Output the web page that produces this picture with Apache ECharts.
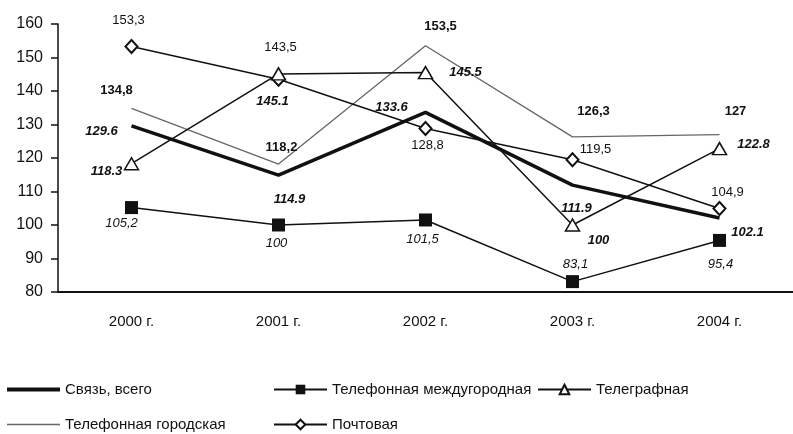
<!DOCTYPE html>
<html>
<head>
<meta charset="utf-8">
<script src="https://cdn.jsdelivr.net/npm/echarts@6/dist/echarts.min.js"></script>
<style>
  html, body { margin: 0; padding: 0; background: #fff; }
  #chart { width: 793px; height: 434px; }
</style>
</head>
<body>
<div id="chart"></div>
<script>
const years = ['2000 г.', '2001 г.', '2002 г.', '2003 г.', '2004 г.'];

const svyazTotal = [129.6, 114.9, 133.6, 111.9, 102.1];
const phoneLong = [105.2, 100, 101.5, 83.1, 95.4];
const telegraph = [118.3, 145.1, 145.5, 100, 122.8];
const phoneCity = [134.8, 118.2, 153.5, 126.3, 127];
const postal = [153.3, 143.5, 128.8, 119.5, 104.9];

// where each value label sits relative to its point (px)
const offsets = {
  total: [[-30, 6], [11, 24], [-34, -5], [4, 23], [28, 14]],
  long: [[-10, 16], [-2, 18], [-3, 19], [3, -17], [1, 24]],
  tele: [[-25, 8], [-6, 28], [40, 0], [26, 15], [34, -4]],
  city: [[-15, -18], [3, -17], [15, -19], [21, -25], [16, -23]],
  post: [[-3, -26], [2, -32], [2, 17], [23, -10], [8, -16]]
};

const font = '"Liberation Sans", Arial, sans-serif';

function withLabels(values, offs, sep, style) {
  return values.map((v, i) => ({
    value: v,
    label: Object.assign({
      show: true,
      position: 'inside',
      offset: offs[i],
      formatter: String(v).replace('.', sep),
      color: '#111',
      fontSize: 13,
      fontFamily: font
    }, style)
  }));
}

let myChart = echarts.init(document.getElementById('chart'));
let option = {
  backgroundColor: '#fff',
  animation: false,
  grid: { left: 58, right: 0, top: 24, bottom: 142 },
  legend: [
    { left: 7, top: 382, itemHeight: 4, data: [{ name: 'Связь, всего', icon: 'rect' }], lineStyle: { width: 4 } },
    { left: 7, top: 417, itemHeight: 1.5, data: [{ name: 'Телефонная городская', icon: 'rect' }], lineStyle: { width: 1.2, type: [3, 2] } },
    { left: 273, top: 382, data: ['Телефонная междугородная'] },
    { left: 273, top: 417, data: ['Почтовая'] },
    { left: 537, top: 382, data: ['Телеграфная'] }
  ].map(l => Object.assign({
    itemWidth: 53, itemHeight: 12, itemGap: 0, padding: 0,
    textStyle: { fontSize: 15, fontFamily: font, color: '#111' }
  }, l)),
  xAxis: {
    type: 'category',
    data: years,
    boundaryGap: true,
    axisLine: { lineStyle: { color: '#111', width: 1.8 } },
    axisTick: { length: 6, lineStyle: { color: '#111', width: 1.5 } },
    axisLabel: { fontSize: 15, fontFamily: font, color: '#111', margin: 22 }
  },
  yAxis: {
    type: 'value',
    min: 80,
    max: 160,
    interval: 10,
    axisLine: { show: true, lineStyle: { color: '#111', width: 1.5 } },
    axisTick: { show: true, length: 7, lineStyle: { color: '#111', width: 1.5 } },
    splitLine: { show: false },
    axisLabel: { fontSize: 16, fontFamily: font, color: '#111', margin: 15 }
  },
  series: [
    {
      name: 'Телефонная городская',
      type: 'line',
      data: withLabels(phoneCity, offsets.city, ',', { fontWeight: 'bold' }),
      symbol: 'circle',
      symbolSize: 0.1,
      lineStyle: { color: '#666', width: 1.3 },
      itemStyle: { color: '#666' },
      z: 2
    },
    {
      name: 'Почтовая',
      type: 'line',
      data: withLabels(postal, offsets.post, ',', {}),
      symbol: 'diamond',
      symbolSize: [12, 13],
      lineStyle: { color: '#111', width: 1.5 },
      itemStyle: { color: '#fff', borderColor: '#111', borderWidth: 2 },
      z: 3
    },
    {
      name: 'Связь, всего',
      type: 'line',
      data: withLabels(svyazTotal, offsets.total, '.', { fontWeight: 'bold', fontStyle: 'italic' }),
      symbol: 'circle',
      symbolSize: 0.1,
      lineStyle: { color: '#111', width: 3.5 },
      itemStyle: { color: '#111' },
      z: 4
    },
    {
      name: 'Телеграфная',
      type: 'line',
      data: withLabels(telegraph, offsets.tele, '.', { fontWeight: 'bold', fontStyle: 'italic' }),
      symbol: 'triangle',
      symbolSize: [14, 12],
      lineStyle: { color: '#111', width: 1.5 },
      itemStyle: { color: '#fff', borderColor: '#111', borderWidth: 1.5 },
      z: 5
    },
    {
      name: 'Телефонная междугородная',
      type: 'line',
      data: withLabels(phoneLong, offsets.long, ',', { fontStyle: 'italic' }),
      symbol: 'rect',
      symbolSize: 13,
      lineStyle: { color: '#111', width: 1.5 },
      itemStyle: { color: '#111' },
      z: 6
    }
  ]
};

option && myChart.setOption(option);
</script>
</body>
</html>
